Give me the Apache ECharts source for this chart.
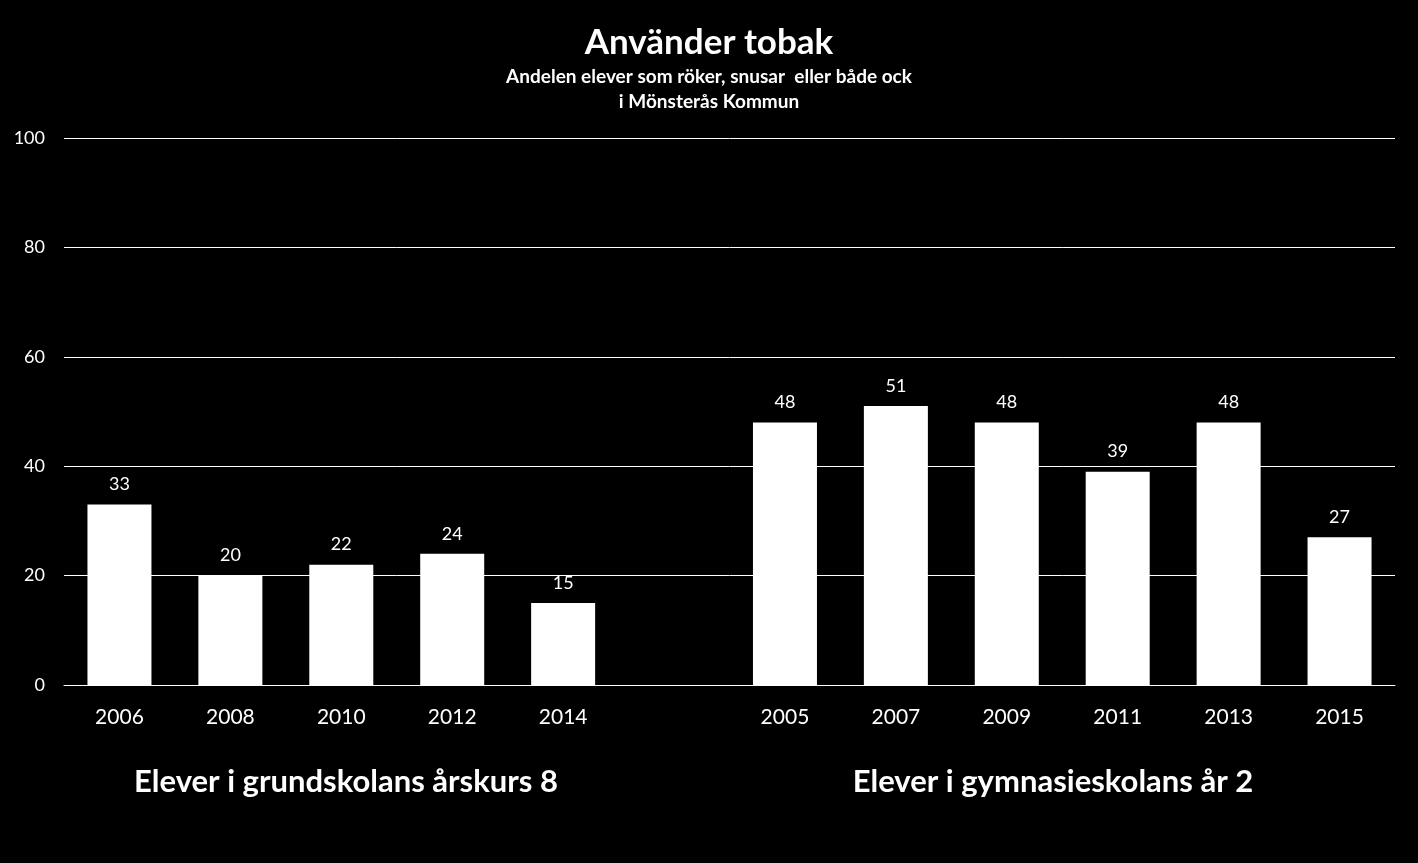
<!DOCTYPE html>
<html>
<head>
<meta charset="utf-8">
<script src="https://cdn.jsdelivr.net/npm/echarts@6/dist/echarts.min.js"></script>
<style>
html,body{margin:0;padding:0;background:#000;}
#chart{width:1418px;height:863px;}
</style>
</head>
<body>
<div id="chart"></div>
<script>
const categories = ['2006','2008','2010','2012','2014','','2005','2007','2009','2011','2013','2015'];
const values = [33, 20, 22, 24, 15, '-', 48, 51, 48, 39, 48, 27];
const yTicks = [0, 20, 40, 60, 80, 100];
const titleText = 'Använder tobak';
const subtitleText = 'Andelen elever som röker, snusar  eller både ock\ni Mönsterås Kommun';
const groupLabels = ['Elever i grundskolans årskurs 8', 'Elever i gymnasieskolans år 2'];
const groupCenters = [346, 1053];

const FONT = 'Lato, "Open Sans", sans-serif';
const chart = echarts.init(document.getElementById('chart'));
const option = {
  backgroundColor: '#000',
  animation: false,
  title: {
    text: titleText,
    subtext: subtitleText,
    left: 'center',
    top: 20,
    itemGap: 4,
    textStyle: {color: '#fff', fontFamily: FONT, fontWeight: 'bold', fontSize: 35},
    subtextStyle: {color: '#fff', fontFamily: FONT, fontWeight: 'bold', fontSize: 19, lineHeight: 25, align: 'center'}
  },
  grid: {left: 64, right: 23, top: 138, bottom: 178, containLabel: false},
  xAxis: {
    type: 'category',
    data: categories,
    axisLine: {show: true, lineStyle: {color: '#fff', width: 1}},
    axisTick: {show: false},
    axisLabel: {color: '#fff', fontFamily: FONT, fontSize: 21, margin: 22}
  },
  yAxis: {
    type: 'value',
    min: yTicks[0], max: yTicks[yTicks.length - 1], interval: yTicks[1] - yTicks[0],
    axisLine: {show: false},
    axisTick: {show: false},
    axisLabel: {color: '#fff', fontFamily: FONT, fontSize: 18, margin: 19},
    splitLine: {lineStyle: {color: '#fff', width: 1}}
  },
  series: [{
    type: 'bar',
    data: values,
    barWidth: 64,
    itemStyle: {color: '#fff'},
    label: {show: true, position: 'top', color: '#fff', fontFamily: FONT, fontSize: 18, distance: 11}
  }]
};
chart.setOption(option);

chart.setOption({graphic: groupLabels.map((t, i) => ({
  type: 'text',
  x: groupCenters[i],
  y: 782,
  style: {text: t, fill: '#fff', font: 'bold 31px ' + FONT, textAlign: 'center', textVerticalAlign: 'middle'}
}))});
</script>
</body>
</html>
